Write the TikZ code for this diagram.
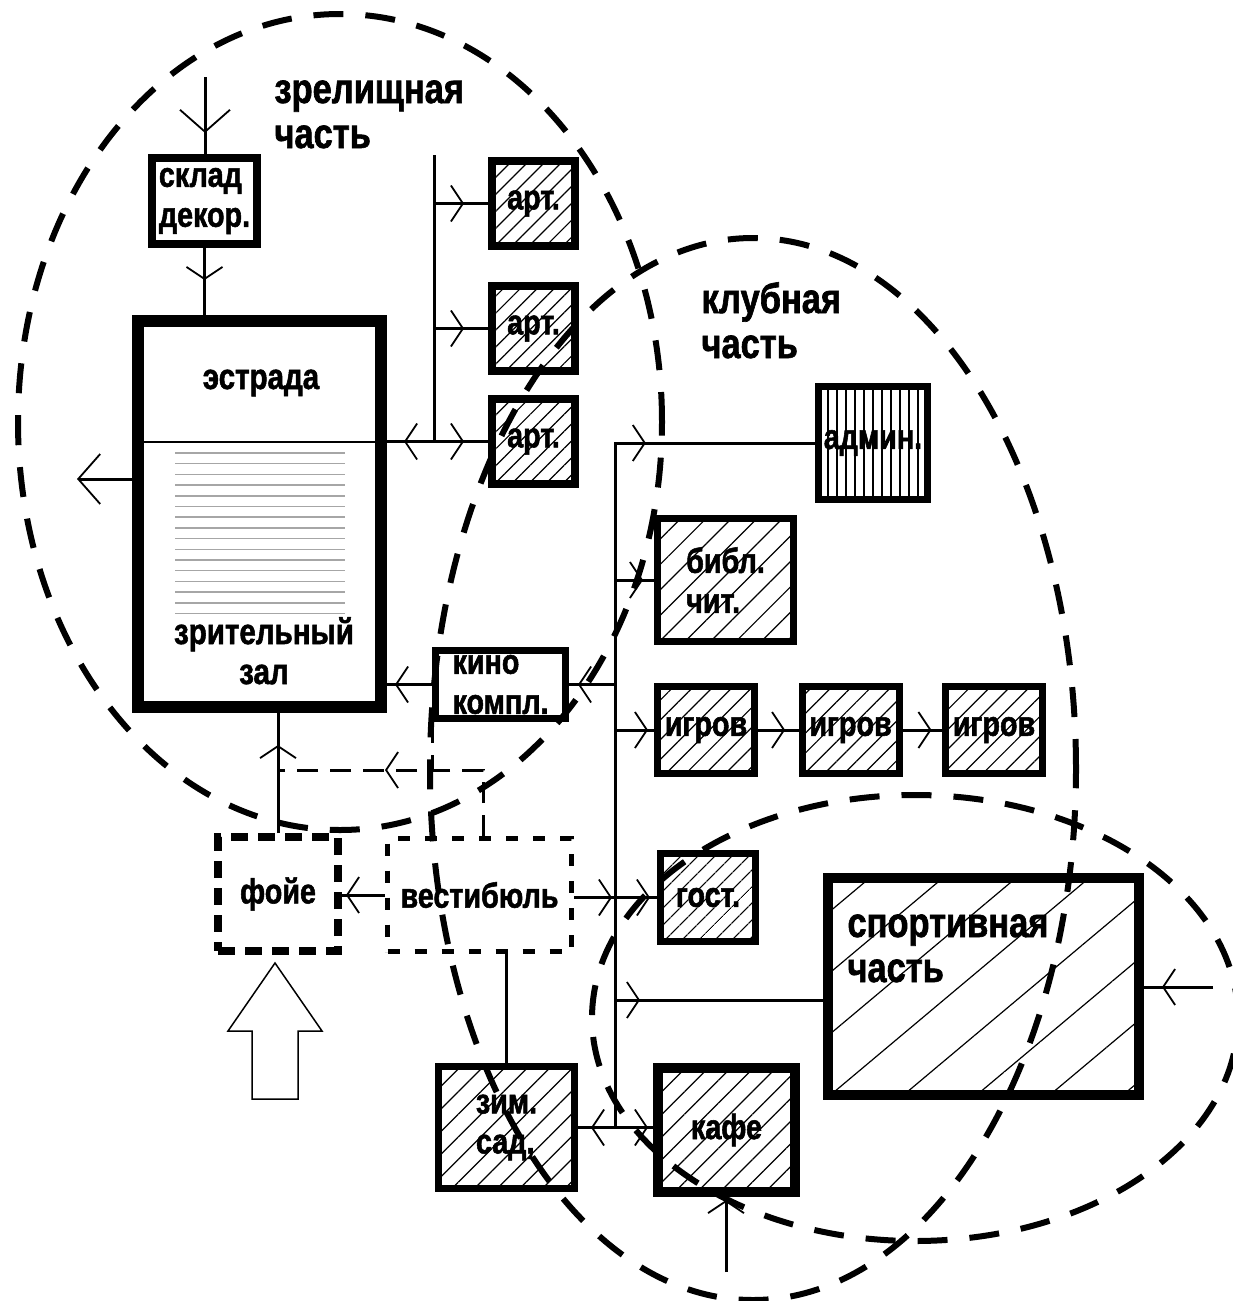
\documentclass[tikz,border=0pt]{standalone}
\usepackage{fontspec}
\setmainfont{Liberation Sans}[FakeStretch=0.82, BoldFeatures={FakeBold=1.5}]
\usetikzlibrary{arrows.meta,patterns.meta,decorations.markings}

\tikzset{
  barb/.tip={Straight Barb[length=12pt,width=36pt,line width=1.8pt]},
  bigbarb/.tip={Straight Barb[length=22pt,width=50pt,line width=1.8pt]},
  tipat/.style={postaction={decorate,decoration={markings,mark=at position #1 with {\arrow{barb}}}}},
  tipback/.style={postaction={decorate,decoration={markings,mark=at position #1 with {\arrowreversed{barb}}}}},
  bigtipat/.style={postaction={decorate,decoration={markings,mark=at position #1 with {\arrow{bigbarb}}}}},
  room/.style={draw, line width=7pt, inner sep=0pt, align=left,
    font=\fontsize{35}{40}\selectfont\bfseries},
  hatched/.style={room, pattern={Lines[angle=45,distance=#1,line width=1.2pt]}},
  hatched/.default=12pt,
  title/.style={inner sep=0pt, align=left, font=\fontsize{42}{45}\selectfont\bfseries},
  caption/.style={inner sep=0pt, align=center, font=\fontsize{36}{40}\selectfont\bfseries},
  zone/.style={line width=6pt, dash pattern=on 30pt off 22pt},
  passline/.style={line width=3pt, dash pattern=on 21pt off 12pt}
}

\begin{document}
\begin{tikzpicture}[x=1pt, y=-1pt, line width=3pt]
\useasboundingbox (0,0) rectangle (1232,1301);

% spectator part
\node[room, line width=12pt, minimum width=243pt, minimum height=386pt] (hall) at (259.5,514) {};
\node[room, line width=8pt, minimum width=105pt, minimum height=86pt] (store) at (204.5,201) {склад\\декор.};
\foreach \n/\y in {1/203.5, 2/328.5, 3/441.5}
  \node[hatched, line width=8pt, minimum width=83pt, minimum height=85pt] (art\n) at (533.5,\y) {арт.};
\draw[line width=2pt] (hall.west |- art3.west) -- (hall.east |- art3.west);
\foreach \k in {0,...,15}
  \draw[gray!70, line width=1.5pt] (175,453+10.7*\k) -- (345,453+10.7*\k);
\node[caption, anchor=base] (stagename) at (261,389) {эстрада};
\node[caption, anchor=base] (seatsname) at (264,684) {зрительный\\зал};

% club part
\node[room, pattern={Lines[angle=90,distance=9pt,line width=1.2pt]}, minimum width=109pt, minimum height=113pt] (admin) at (873,443) {админ.};
\node[hatched=18pt, minimum width=136pt, minimum height=123pt] (library) at (725.5,580) {библ.\\чит.};
\node[room, minimum width=130pt, minimum height=68pt] (cinema) at (500.5,684.5) {кино\\компл.};
\foreach \n/\x in {1/706, 2/850.5, 3/994}
  \node[hatched=14pt, minimum width=97pt, minimum height=87pt] (game\n) at (\x,730) {игров};
\node[hatched=13pt, minimum width=95pt, minimum height=88pt] (guest) at (708,897.5) {гост.};
\node[hatched=16pt, line width=10pt, minimum width=137pt, minimum height=124pt] (cafe) at (726.5,1130) {кафе};
\node[hatched=16pt, minimum width=136pt, minimum height=122pt] (garden) at (506.5,1127.5) {зим.\\сад,};

% sport part
\node[room, pattern={Lines[angle=40,distance=47pt,line width=1.2pt]}, line width=10pt, minimum width=311pt, minimum height=217pt] (sport) at (983.5,986.5) {};

% entrance
\node[room, line width=8pt, dash pattern=on 17pt off 10pt, minimum width=120pt, minimum height=114pt] (foyer) at (278,894) {фойе};
\node[room, line width=5pt, dash pattern=on 12pt off 15pt, minimum width=184pt, minimum height=113pt] (lobby) at (479.5,895) {вестибюль};
\draw[line width=1.5pt] (275,963) -- (322,1031) -- (298,1031) -- (298,1099)
  -- (252,1099) -- (252,1031) -- (228,1031) -- cycle;

% titles
\node[title, anchor=base west] (showname) at (273,148) {зрелищная\\часть};
\node[title, anchor=base west] (clubname) at (700,358) {клубная\\часть};
\node[title, anchor=base west] (sportname) at (846,982) {спортивная\\часть};

% connections
\coordinate (stagein) at (205,77);
\coordinate (hallexit) at (77,479);
\coordinate (artbus) at (434,155);
\coordinate (trunk) at (615,443);
\coordinate (sportside) at ([yshift=-13.5pt]sport.west);
\coordinate (sportin) at (1213,987);
\coordinate (cafein) at (726,1272);
\coordinate (backturn) at (483,770);

\draw[bigtipat=56pt] (stagein) -- (stagein |- store.north);
\draw[tipat=32pt] (store.south) -- (store.south |- hall.north);
\draw[-bigbarb] (hallexit -| hall.west) -- (hallexit);
\draw[tipback=17pt, tipat=77pt] (art3.west -| hall.east) -- (art3.west);
\draw (artbus) -- (artbus |- art3.west);
\draw[tipat=30pt] (artbus |- art1.west) -- (art1.west);
\draw[tipat=30pt] (artbus |- art2.west) -- (art2.west);
\draw[tipat=37pt] (cinema.west) -- (cinema.west -| hall.east);
\draw[tipat=-172pt] (trunk |- garden.east) -- (trunk) -- (admin.west);
\draw[tipat=28pt] (trunk |- library.west) -- (library.west);
\draw[tipat=37pt] (trunk |- cinema.east) -- (cinema.east);
\draw[tipat=33pt] (trunk |- game1.west) -- (game1.west);
\draw[tipat=30pt] (game1) -- (game2);
\draw[tipat=29pt] (game2) -- (game3);
\draw[tipat=38pt, tipat=76pt] (lobby.east |- guest.west) -- (guest.west);
\draw[tipat=25pt] (trunk |- sportside) -- (sportside);
\draw[tipat=51pt] (sportin) -- (sportin -| sport.east);
\draw[tipback=13pt, tipat=70pt] (garden.east) -- (garden.east -| cafe.west);
\draw[tipat=72pt] (cafein) -- (cafein |- cafe.south);
\draw[tipat=39pt] (lobby.west) -- (lobby.west -| foyer.east);
\draw[tipat=88pt] (foyer.north) -- (foyer.north |- hall.south);
\draw (lobby.south -| garden.north) -- (garden.north);
\draw[passline, tipat=164pt] (backturn |- lobby.north) -- (backturn) -- (backturn -| foyer.north);
\draw[passline] (cinema.south west) -- (cinema.south west |- backturn);

% zones
\draw[zone] (340,422) ellipse [x radius=322pt, y radius=408pt];
\draw[zone] (753,769) ellipse [x radius=323pt, y radius=531pt];
\draw[zone] (915,1018) ellipse [x radius=323pt, y radius=223pt];
\end{tikzpicture}
\end{document}
